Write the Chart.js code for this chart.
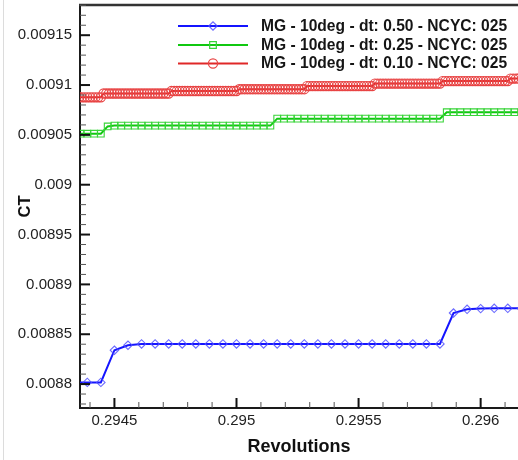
<!DOCTYPE html>
<html>
<head>
<meta charset="utf-8">
<script src="https://cdn.jsdelivr.net/npm/chart.js@4.4.1/dist/chart.umd.min.js"></script>
<style>
  html, body { margin: 0; padding: 0; background: #fff; }
  #wrap { position: relative; width: 518px; height: 460px; }
  #edge { position: absolute; left: 3px; top: 0; width: 1px; height: 460px; background: #dcdcdc; }
  canvas { position: absolute; left: 0; top: 0; }
</style>
</head>
<body>
<div id="wrap">
  <div id="edge"></div>
  <canvas id="myChart" width="518" height="460"></canvas>
</div>
<script>
var seriesNames = ["MG - 10deg - dt: 0.50 - NCYC: 025",
                   "MG - 10deg - dt: 0.25 - NCYC: 025",
                   "MG - 10deg - dt: 0.10 - NCYC: 025"];
// time steps per revolution for each dt, and the first step shown
var stepsPerRev = [18000, 36000, 90000];
var firstStep = [5298, 10597, 26492];

var ctBlue = [
  0.0088017, 0.0088017, 0.0088017, 0.008834, 0.008839,
  0.0088403, 0.0088403, 0.0088403, 0.0088403, 0.0088403, 0.0088403, 0.0088403, 0.0088403,
  0.0088403, 0.0088403, 0.0088403, 0.0088403, 0.0088403, 0.0088403, 0.0088403, 0.0088403,
  0.0088403, 0.0088403, 0.0088403, 0.0088403, 0.0088403, 0.0088403, 0.0088403,
  0.0088713, 0.008875, 0.0088757, 0.008876, 0.008876, 0.008876
];
var ctGreen = [
  0.0090512, 0.0090512, 0.0090512, 0.0090512,
  0.0090585, 0.0090593, 0.0090593, 0.0090593, 0.0090593, 0.0090593, 0.0090593, 0.0090593, 0.0090593,
  0.0090593, 0.0090593, 0.0090593, 0.0090593, 0.0090593, 0.0090593, 0.0090593, 0.0090593,
  0.0090593, 0.0090593, 0.0090593, 0.0090593, 0.0090593, 0.0090593, 0.0090593, 0.0090593,
  0.0090663, 0.0090663, 0.0090663, 0.0090663, 0.0090663, 0.0090663, 0.0090663, 0.0090663,
  0.0090663, 0.0090663, 0.0090663, 0.0090663, 0.0090663, 0.0090663, 0.0090663, 0.0090663,
  0.0090663, 0.0090663, 0.0090663, 0.0090663, 0.0090663, 0.0090663, 0.0090663, 0.0090663, 0.0090663,
  0.0090728, 0.0090728, 0.0090728, 0.0090728, 0.0090728, 0.0090728,
  0.0090728, 0.0090728, 0.0090728, 0.0090728, 0.0090728, 0.0090728
];
var ctRed = [
  0.0090877, 0.0090877, 0.0090877, 0.0090877, 0.0090877, 0.0090877, 0.0090877, 0.0090877, 0.0090877,
  0.0090915, 0.0090915, 0.0090915, 0.0090915, 0.0090915, 0.0090915, 0.0090915, 0.0090915, 0.0090915,
  0.0090915, 0.0090915, 0.0090915, 0.0090915, 0.0090915, 0.0090915, 0.0090915, 0.0090915, 0.0090915,
  0.0090915, 0.0090915, 0.0090915, 0.0090915, 0.0090915, 0.0090915, 0.0090915,
  0.009094, 0.009094, 0.009094, 0.009094, 0.009094, 0.009094, 0.009094, 0.009094, 0.009094,
  0.009094, 0.009094, 0.009094, 0.009094, 0.009094, 0.009094, 0.009094, 0.009094, 0.009094,
  0.009094, 0.009094, 0.009094, 0.009094, 0.009094, 0.009094, 0.009094,
  0.0090958, 0.0090958, 0.0090958, 0.0090958, 0.0090958, 0.0090958, 0.0090958, 0.0090958, 0.0090958,
  0.0090958, 0.0090958, 0.0090958, 0.0090958, 0.0090958, 0.0090958, 0.0090958, 0.0090958, 0.0090958,
  0.0090958, 0.0090958, 0.0090958, 0.0090958, 0.0090958, 0.0090958, 0.0090958,
  0.009099, 0.009099, 0.009099, 0.009099, 0.009099, 0.009099, 0.009099, 0.009099, 0.009099,
  0.009099, 0.009099, 0.009099, 0.009099, 0.009099, 0.009099, 0.009099, 0.009099, 0.009099,
  0.009099, 0.009099, 0.009099, 0.009099, 0.009099, 0.009099, 0.009099,
  0.0091015, 0.0091015, 0.0091015, 0.0091015, 0.0091015, 0.0091015, 0.0091015, 0.0091015, 0.0091015,
  0.0091015, 0.0091015, 0.0091015, 0.0091015, 0.0091015, 0.0091015, 0.0091015, 0.0091015, 0.0091015,
  0.0091015, 0.0091015, 0.0091015, 0.0091015, 0.0091015, 0.0091015, 0.0091015,
  0.009104, 0.009104, 0.009104, 0.009104, 0.009104, 0.009104, 0.009104, 0.009104, 0.009104,
  0.009104, 0.009104, 0.009104, 0.009104, 0.009104, 0.009104, 0.009104, 0.009104, 0.009104,
  0.009104, 0.009104, 0.009104, 0.009104, 0.009104, 0.009104, 0.009104,
  0.0091065, 0.0091065, 0.0091065, 0.0091065
];

var xTicks = [0.2945, 0.295, 0.2955, 0.296];
var yTicks = [0.0088, 0.00885, 0.0089, 0.00895, 0.009, 0.00905, 0.0091, 0.00915];

var lineColors = ['#1414ff', '#10c810', '#e02828'];
var markColors = ['rgba(80,80,255,0.85)', '#38d438', '#e84444'];
var markStyles = ['rectRot', 'rect', 'circle'];
var markSizes = [4.2, 4.7, 4.6];

function fmt(v) { return Number(v.toPrecision(6)).toString(); }

function points(vals, k) {
  return vals.map(function (v, i) {
    return { x: (firstStep[k] + i) / stepsPerRev[k], y: v };
  });
}

var font = 'Liberation Sans, Arial, sans-serif';

// inner tick marks + top frame line
var framePlugin = {
  id: 'frame',
  afterDraw: function (chart) {
    var ctx = chart.ctx, ca = chart.chartArea;
    var sx = chart.scales.x, sy = chart.scales.y;
    ctx.save();
    ctx.strokeStyle = '#333';
    ctx.lineWidth = 2.5;
    ctx.beginPath();
    ctx.moveTo(ca.left - 1, ca.top);
    ctx.lineTo(ca.right, ca.top);
    ctx.stroke();

    var n, p, major;
    for (n = Math.ceil(sy.min * 1e5); n <= Math.floor(sy.max * 1e5); n++) {
      major = n % 5 === 0;
      p = sy.getPixelForValue(n / 1e5);
      ctx.strokeStyle = major ? '#111' : '#555';
      ctx.lineWidth = major ? 2 : 1;
      ctx.beginPath();
      ctx.moveTo(ca.left, p);
      ctx.lineTo(ca.left + (major ? 10 : 6), p);
      ctx.stroke();
    }
    for (n = Math.ceil(sx.min * 1e4); n <= Math.floor(sx.max * 1e4); n++) {
      major = n % 5 === 0;
      p = sx.getPixelForValue(n / 1e4);
      ctx.strokeStyle = major ? '#111' : '#555';
      ctx.lineWidth = major ? 2 : 1;
      ctx.beginPath();
      ctx.moveTo(p, ca.bottom);
      ctx.lineTo(p, ca.bottom - (major ? 10 : 6));
      ctx.stroke();
    }
    ctx.restore();
  }
};

// legend with line + marker samples, inside plot top right
var legendPlugin = {
  id: 'lineLegend',
  afterDatasetsDraw: function (chart) {
    var ctx = chart.ctx;
    var rows = [26, 45, 63.5];
    ctx.save();
    for (var i = 0; i < seriesNames.length; i++) {
      var y = rows[i];
      ctx.strokeStyle = lineColors[i];
      ctx.lineWidth = 2.2;
      ctx.beginPath();
      ctx.moveTo(178, y);
      ctx.lineTo(248, y);
      ctx.stroke();
      ctx.strokeStyle = markColors[i];
      ctx.lineWidth = 1.2;
      var r = markSizes[i];
      ctx.fillStyle = '#fff';
      ctx.beginPath();
      if (markStyles[i] === 'circle') {
        ctx.arc(213, y, r, 0, Math.PI * 2);
      } else if (markStyles[i] === 'rect') {
        var h = r * Math.SQRT1_2;
        ctx.rect(213 - h, y - h, 2 * h, 2 * h);
      } else {
        ctx.moveTo(213 - r, y);
        ctx.lineTo(213, y - r);
        ctx.lineTo(213 + r, y);
        ctx.lineTo(213, y + r);
        ctx.closePath();
      }
      ctx.stroke();
      ctx.fillStyle = '#151515';
      ctx.font = 'bold 15.6px ' + font;
      ctx.textBaseline = 'middle';
      ctx.textAlign = 'left';
      ctx.fillText(seriesNames[i], 261, y + 0.5);
    }
    ctx.restore();
  }
};

var ctSeries = [ctBlue, ctGreen, ctRed];
var datasets = ctSeries.map(function (vals, k) {
  return {
    label: seriesNames[k],
    data: points(vals, k),
    borderColor: lineColors[k],
    borderWidth: 2,
    pointStyle: markStyles[k],
    pointRadius: markSizes[k],
    pointBorderColor: markColors[k],
    pointBorderWidth: 1.1,
    pointBackgroundColor: 'rgba(255,255,255,0)',
    tension: 0,
    fill: false
  };
});

var chart = new Chart("myChart", {
  type: "line",
  data: { datasets: datasets },
  options: {
    responsive: false,
    animation: false,
    layout: { autoPadding: false, padding: { top: 5, right: 0, bottom: 0, left: 0 } },
    plugins: { legend: { display: false }, tooltip: { enabled: false } },
    scales: {
      x: {
        type: 'linear',
        min: 0.294359,
        max: 0.296153,
        afterBuildTicks: function (s) { s.ticks = xTicks.map(function (v) { return { value: v }; }); },
        afterFit: function (s) { s.height = 52; s.paddingLeft = 0; s.paddingRight = 0; },
        grid: { display: false, drawTicks: false },
        border: { display: true, color: '#1a1a1a', width: 2 },
        ticks: {
          padding: 4, color: '#222', autoSkip: false, maxRotation: 0,
          font: { family: font, size: 15 },
          callback: function (v) { return fmt(v); }
        },
        title: {
          display: true, text: 'Revolutions', color: '#111',
          font: { family: font, size: 18, weight: 'bold' },
          padding: { top: 0, bottom: 2 }
        }
      },
      y: {
        type: 'linear',
        min: 0.008776,
        max: 0.0091803,
        afterBuildTicks: function (s) { s.ticks = yTicks.map(function (v) { return { value: v }; }); },
        afterFit: function (s) { s.width = 80; s.paddingTop = 0; s.paddingBottom = 0; },
        grid: { display: false, drawTicks: false },
        border: { display: true, color: '#1a1a1a', width: 2 },
        ticks: {
          padding: 8, color: '#222', autoSkip: false,
          font: { family: font, size: 15 },
          callback: function (v) { return fmt(v); }
        },
        title: {
          display: true, text: 'CT', color: '#111',
          font: { family: font, size: 16.5, weight: 'bold' },
          padding: { top: 16, bottom: 0 }
        }
      }
    }
  },
  plugins: [framePlugin, legendPlugin]
});
</script>
</body>
</html>
